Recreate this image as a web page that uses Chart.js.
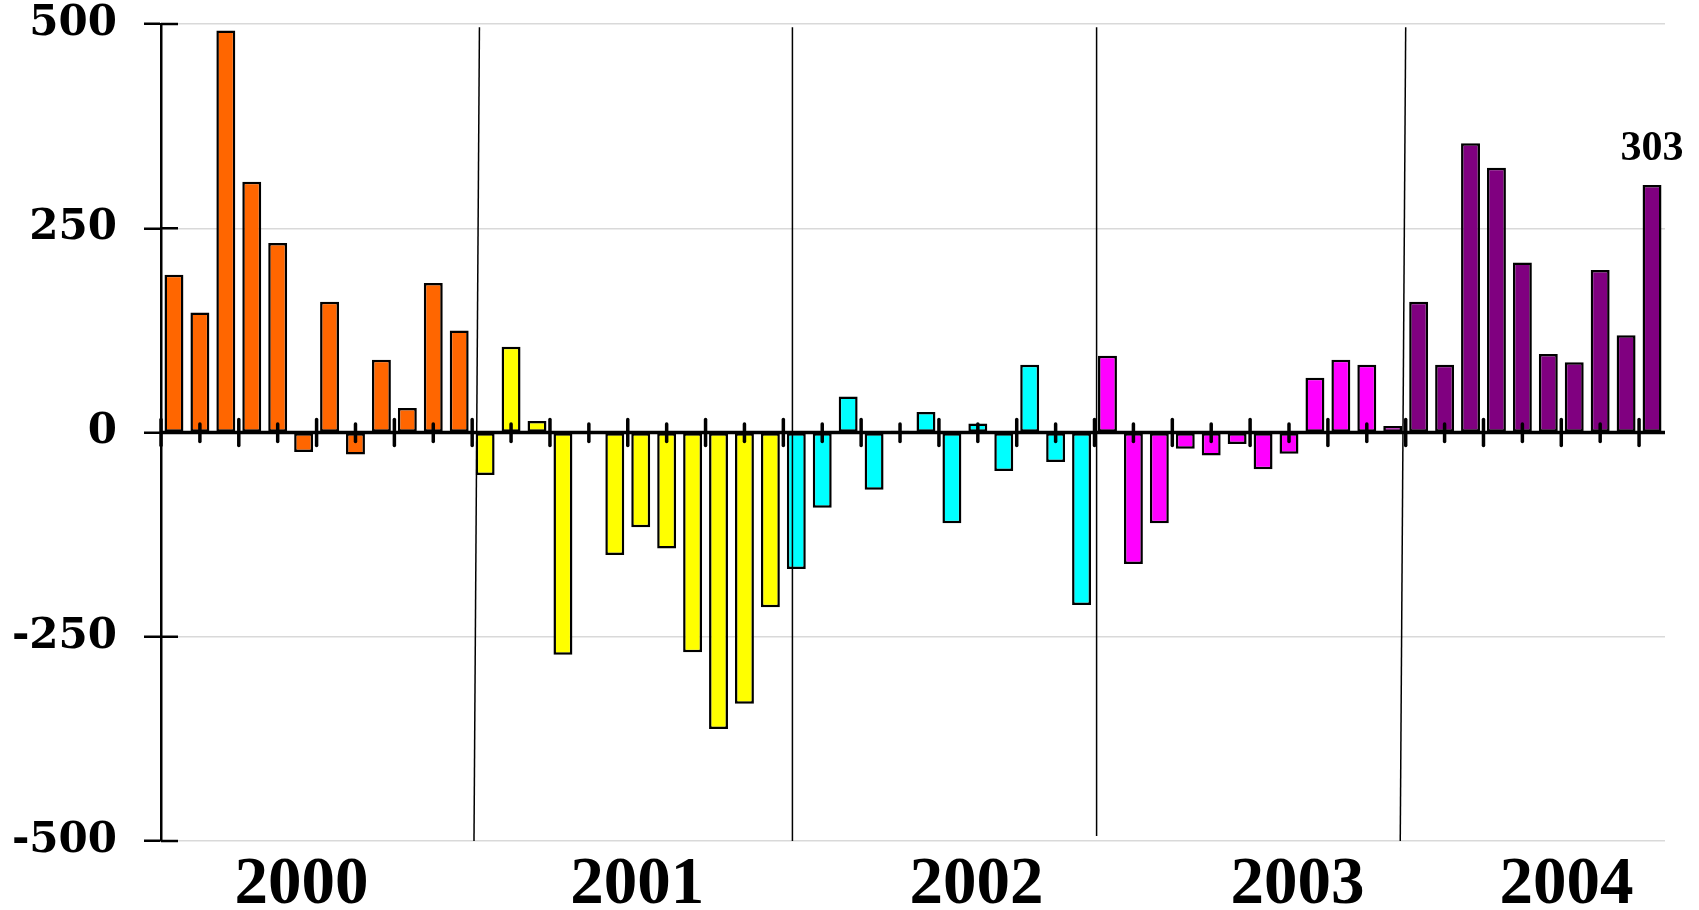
<!DOCTYPE html>
<html><head><meta charset="utf-8">
<script src="https://cdn.jsdelivr.net/npm/chart.js@4/dist/chart.umd.min.js"></script>
<style>html,body{margin:0;padding:0;background:#fff}#wrap{width:1699px;height:910px}</style>
</head><body><div id="wrap"><canvas id="c" width="1699" height="910"></canvas></div>
<script>
const years = ['2000','2001','2002','2003','2004'];
const monthNames = ['Jan','Feb','Mar','Apr','May','Jun','Jul','Aug','Sep','Oct','Nov','Dec'];
const values2000 = [193,147,492,307,232,-24,160,-27,89,30,183,125];
const values2001 = [-52,105,14,-272,0,-150,-116,-142,-269,-363,-332,-214];
const values2002 = [-167,-92,44,-70,2,25,-111,11,-47,83,-36,-211];
const values2003 = [94,-161,-111,-20,-28,-14,-45,-26,67,89,83,8];
const values2004 = [160,83,354,324,208,96,86,199,119,303];
const yearColors = ['#FF6600','#FFFF00','#00FFFF','#FF00FF','#800080'];
const yTicks = [-500,-250,0,250,500];

const seriesByYear = [values2000,values2001,values2002,values2003,values2004];
const labels = [], data = [], colors = [];
seriesByYear.forEach((arr, yi) => arr.forEach((v, mi) => {
  labels.push(years[yi] + ' ' + monthNames[mi]);
  data.push(v);
  colors.push(yearColors[yi]);
}));

// decoration settings (positions in category units)
const yearLabelPos = [4.92, 17.87, 30.95, 43.33, 53.70];
const dividerLines = [
  {xTop: 11.78, xBot: 11.57, yTop: 496, yBot: -500},
  {xTop: 23.85, xBot: 23.85, yTop: 496, yBot: -500},
  {xTop: 35.58, xBot: 35.58, yTop: 496, yBot: -494},
  {xTop: 47.50, xBot: 47.29, yTop: 496, yBot: -500}
];

const decor = {
  id: 'decor',
  afterDatasetsDraw(chart) {
    const {ctx, chartArea: a, scales: {x, y}} = chart;
    const y0 = y.getPixelForValue(0);
    ctx.save();
    ctx.strokeStyle = '#000';
    ctx.lineWidth = 2.5;
    yTicks.forEach(v => {
      const py = y.getPixelForValue(v);
      ctx.beginPath(); ctx.moveTo(a.left, py); ctx.lineTo(a.left + 17, py); ctx.stroke();
    });
    ctx.lineWidth = 3.5;
    ctx.beginPath(); ctx.moveTo(a.left, y0); ctx.lineTo(a.right, y0); ctx.stroke();
    ctx.lineCap = 'round';
    let n = 0;
    for (let k = -0.5; k <= labels.length - 0.5 + 0.001; k += 1.5, n++) {
      const px = x.getPixelForValue(k);
      const long = n % 2 === 0;
      ctx.beginPath();
      ctx.moveTo(px, y0 - (long ? 13 : 8.5));
      ctx.lineTo(px, y0 + (long ? 13 : 9));
      ctx.stroke();
    }
    ctx.lineCap = 'butt';
    ctx.lineWidth = 1.5;
    dividerLines.forEach(d => {
      ctx.beginPath();
      ctx.moveTo(x.getPixelForValue(d.xTop), y.getPixelForValue(d.yTop));
      ctx.lineTo(x.getPixelForValue(d.xBot), y.getPixelForValue(d.yBot));
      ctx.stroke();
    });
    const meta = chart.getDatasetMeta(0);
    const last = meta.data[meta.data.length - 1];
    ctx.font = 'bold 42px "Liberation Serif"';
    ctx.textAlign = 'center';
    ctx.textBaseline = 'alphabetic';
    ctx.fillStyle = '#000';
    ctx.fillText(String(data[data.length - 1]), last.x, last.y - 25);
    ctx.restore();
  }
};

new Chart(document.getElementById('c'), {
  type: 'bar',
  data: {
    labels: labels,
    datasets: [{
      data: data,
      backgroundColor: colors,
      borderColor: '#000',
      borderWidth: 2.5,
      borderSkipped: false,
      barPercentage: 0.73,
      categoryPercentage: 1
    }]
  },
  options: {
    responsive: false,
    animation: false,
    devicePixelRatio: 1,
    layout: {padding: {top: 0, right: 34, left: 0, bottom: 0}},
    plugins: {legend: {display: false}, tooltip: {enabled: false}},
    scales: {
      x: {display: false, type: 'category', offset: true},
      x2: {
        type: 'linear', position: 'bottom', min: -0.5, max: 57.5,
        offset: false, bounds: 'data', grace: 0,
        grid: {display: false, drawTicks: false, offset: false},
        border: {display: false},
        afterBuildTicks: (s) => { s.ticks = yearLabelPos.map(v => ({value: v})); s.min = -0.5; s.max = 57.5; },
        ticks: {
          autoSkip: false, includeBounds: false, maxRotation: 0, minRotation: 0, padding: 11, color: '#000',
          font: {family: 'Liberation Serif', weight: 'bold', size: 67, lineHeight: 1},
          callback: (v, i) => years[i]
        },
        afterFit: (s) => { s.height = 69; s.paddingLeft = 0; s.paddingRight = 0; }
      },
      y: {
        min: -500, max: 500,
        afterBuildTicks: (s) => { s.ticks = yTicks.map(v => ({value: v})); },
        grid: {
          color: (c) => (c.tick && c.tick.value === 0) ? 'rgba(0,0,0,0)' : '#d9d9d9',
          lineWidth: 1.5, tickColor: '#000', tickLength: 17, tickWidth: 2.5
        },
        border: {color: '#000', width: 2.5},
        ticks: {padding: 27, color: '#000', font: {family: 'DejaVu Serif', weight: 'bold', size: 42, lineHeight: 1}},
        afterFit: (s) => { s.width = 161; s.paddingTop = 24; s.paddingBottom = 0; }
      }
    }
  },
  plugins: [decor]
});
</script></body></html>
